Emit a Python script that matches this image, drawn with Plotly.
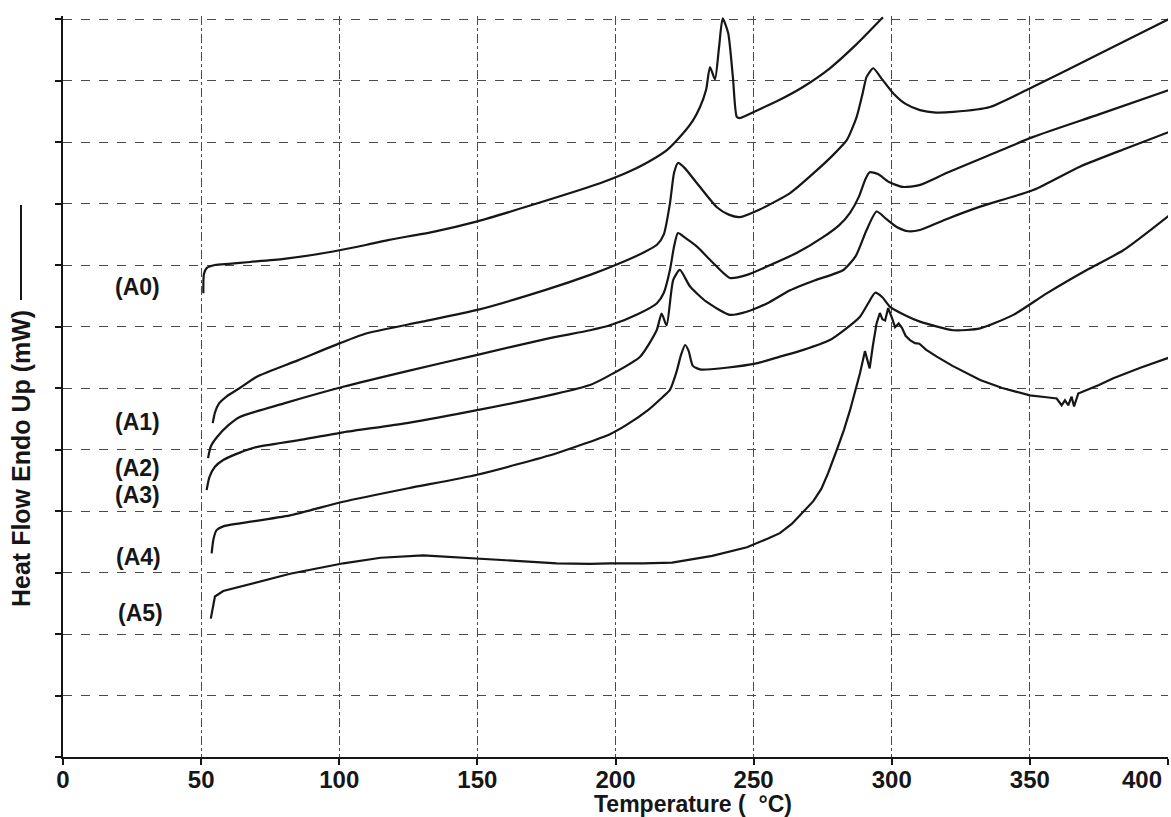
import plotly.graph_objects as go

# ---- data (Temperature in deg C, heat flow in grid units) ----
T_A0 = [50.8, 51.0, 52.0, 55, 60, 67.7, 80, 97.8, 110, 118, 134, 150, 170, 194.4, 205, 212,
        218.6, 224.4, 228, 230.6, 232.8, 234.2, 236.0, 237.5, 238.8, 240.8, 242.5, 243.9, 245.0,
        252, 260, 268, 277.6, 287, 296.8]
Y_A0 = [7.54, 7.85, 7.95, 8.0, 8.02, 8.05, 8.1, 8.22, 8.33, 8.41, 8.54, 8.71, 8.98, 9.33, 9.52, 9.68,
        9.87, 10.14, 10.35, 10.57, 10.85, 11.22, 11.02, 11.55, 12.01, 11.77, 11.05, 10.41, 10.39,
        10.53, 10.7, 10.9, 11.2, 11.58, 12.03]

T_A1 = [54.2, 55.0, 56.5, 59.4, 64, 70, 85, 100.3, 110, 130, 150, 175, 190.8, 200, 210, 215, 217.5,
        219.7, 221.2, 222.6, 225, 229.5, 236.7, 241, 245, 252, 263.2, 271.6, 279, 283.7, 287.3, 289.5,
        290.9, 293.3, 296, 300.6, 305, 310.2, 316, 322.3, 335.6, 351.2, 375.4, 400.7]
Y_A1 = [5.43, 5.6, 5.75, 5.87, 6.0, 6.18, 6.45, 6.73, 6.89, 7.08, 7.27, 7.6, 7.84, 8.0, 8.2, 8.33, 8.5,
        9.0, 9.5, 9.66, 9.58, 9.33, 8.94, 8.82, 8.78, 8.9, 9.17, 9.49, 9.8, 10.03, 10.41, 10.8,
        11.06, 11.2, 11.05, 10.79, 10.62, 10.52, 10.48, 10.49, 10.57, 10.9, 11.44, 12.01]

T_A2 = [52.5, 53.5, 55.7, 60, 64, 80, 101.4, 125, 150, 175, 190.8, 198, 208, 215, 217.5, 219.7, 221.2,
        222.6, 225, 229.5, 235, 241.4, 247.6, 255, 265.7, 275, 281, 284.9, 288, 290.5, 292, 295, 299,
        304, 310, 320, 335, 351, 375, 400.7]
Y_A2 = [4.86, 5.05, 5.2, 5.4, 5.53, 5.75, 6.02, 6.28, 6.54, 6.8, 6.94, 7.02, 7.2, 7.38, 7.55, 7.92, 8.3,
        8.52, 8.45, 8.3, 8.05, 7.79, 7.84, 7.98, 8.2, 8.45, 8.65, 8.85, 9.1, 9.4, 9.51, 9.48, 9.35,
        9.27, 9.3, 9.5, 9.78, 10.08, 10.45, 10.85]

T_A3 = [52.0, 53, 55, 58, 64, 70, 85, 101.4, 124.5, 149.9, 178.7, 190.8, 198, 208.9, 214.9, 216.7,
        218.5, 220.9, 223.3, 227, 233, 241.4, 247.5, 255, 263.2, 272, 282.5, 287, 290.9, 294.5, 298,
        301.8, 306, 310.2, 320, 332, 351.2, 368.1, 385, 400.7]
Y_A3 = [4.34, 4.55, 4.72, 4.83, 4.95, 5.04, 5.15, 5.28, 5.43, 5.64, 5.91, 6.05, 6.21, 6.51, 6.94, 7.21,
        7.02, 7.76, 7.92, 7.65, 7.4, 7.19, 7.24, 7.38, 7.59, 7.75, 7.92, 8.15, 8.57, 8.87, 8.75,
        8.62, 8.55, 8.57, 8.75, 8.95, 9.22, 9.6, 9.9, 10.17]

T_A4 = [53.8, 54.5, 55.6, 58, 64, 82.2, 101.4, 125, 149.9, 178.7, 198, 204, 212, 217, 219.7, 222,
        223.8, 225.2, 226.5, 228, 231, 240, 251, 259.5, 268, 277.6, 283, 288.5, 291.5, 294, 296.5,
        299.4, 305, 310.2, 322.3, 332, 344, 356.1, 370.6, 383.8, 400.5]
Y_A4 = [3.31, 3.55, 3.69, 3.75, 3.8, 3.93, 4.15, 4.37, 4.59, 4.94, 5.25, 5.4, 5.65, 5.85, 5.97, 6.25,
        6.55, 6.7, 6.6, 6.36, 6.3, 6.33, 6.4, 6.51, 6.62, 6.78, 6.95, 7.16, 7.38, 7.55, 7.48,
        7.32, 7.18, 7.08, 6.94, 6.97, 7.19, 7.54, 7.92, 8.24, 8.81]

T_A5 = [53.5, 54.2, 55, 58, 64, 82.2, 101.5, 115, 130.4, 149.8, 165, 178.7, 190.8, 198, 210, 220.5,
        235, 247.6, 255, 259.5, 263.8, 268, 271.6, 274.5, 277, 280, 282.7, 284.9, 286.8, 288.5,
        290.3, 291.2, 292, 293.2, 294.5, 295.7, 296.6, 297.6, 298.7, 300, 301.2, 302.5, 303.7, 305,
        306.6, 308.4, 310, 312.5, 316.3, 322, 332, 340, 350, 356, 359.7, 361.5, 362.7, 363.9, 365.1,
        366.0, 367.5, 375, 380.2, 390, 400.7]
Y_A5 = [2.25, 2.45, 2.61, 2.7, 2.77, 2.98, 3.15, 3.24, 3.28, 3.23, 3.18, 3.15, 3.14, 3.15, 3.15, 3.16,
        3.27, 3.41, 3.55, 3.64, 3.79, 3.98, 4.16, 4.36, 4.62, 4.98, 5.32, 5.64, 5.95, 6.24,
        6.6, 6.45, 6.32, 6.7, 7.05, 7.22, 7.12, 7.1, 7.3, 7.15, 6.99, 7.05, 6.98, 6.85,
        6.78, 6.73, 6.72, 6.62, 6.51, 6.36, 6.13, 6.0, 5.88, 5.85, 5.83, 5.72, 5.8, 5.72, 5.86,
        5.7, 5.91, 6.05, 6.16, 6.33, 6.5]

curve_names = ["(A0)", "(A1)", "(A2)", "(A3)", "(A4)", "(A5)"]
label_T = [26.8, 26.8, 26.8, 26.8, 27.5, 28.0]
label_Y = [7.64, 5.45, 4.70, 4.26, 3.25, 2.34]

x_ticks = [0, 50, 100, 150, 200, 250, 300, 350, 400]
x_ticktext = ["0", "50", "100", "150", "200", "250", "300", "350", "400"]
y_grid = list(range(0, 13))

FONT = "Liberation Sans, Arial, Helvetica, sans-serif"
INK = "#161616"
GRID = "#4a4a4a"

series = [(T_A0, Y_A0), (T_A1, Y_A1), (T_A2, Y_A2), (T_A3, Y_A3), (T_A4, Y_A4), (T_A5, Y_A5)]

fig = go.Figure()
for i, (tx, yy) in enumerate(series):
    shape = "linear" if i == 5 else "spline"
    fig.add_trace(go.Scatter(
        x=tx, y=yy, mode="lines", name=curve_names[i],
        line=dict(color=INK, width=2.2, shape=shape, smoothing=0.6),
        showlegend=False, hoverinfo="skip"))


def b(s):
    return "<b>" + s + "</b>"


annotations = []
for name, lx, ly in zip(curve_names, label_T, label_Y):
    annotations.append(dict(x=lx, y=ly, xref="x", yref="y", text=b(name), showarrow=False,
                            font=dict(family=FONT, size=23, color=INK),
                            xanchor="center", yanchor="middle"))

# last tick label pushed inside the page as in the scan
annotations.append(dict(x=x_ticks[-1], y=-(779 - 757) / 741, xref="x", yref="paper",
                        text=b(x_ticktext[-1]), showarrow=False, xanchor="right", yanchor="middle",
                        xshift=-4, font=dict(family=FONT, size=24, color=INK)))

annotations.append(dict(x=228, y=-(804 - 757) / 741, xref="x", yref="paper",
                        text=b("Temperature (  \u00b0C)"), showarrow=False,
                        xanchor="center", yanchor="middle",
                        font=dict(family=FONT, size=23, color=INK)))

annotations.append(dict(x=(21 - 63) / 1105, y=(757 - 459) / 741, xref="paper", yref="paper",
                        text=b("Heat Flow Endo Up (mW)"), textangle=-90, showarrow=False,
                        xanchor="center", yanchor="middle",
                        font=dict(family=FONT, size=25, color=INK)))

shapes = [dict(type="line", xref="paper", yref="paper",
               x0=(21 - 63) / 1105, x1=(21 - 63) / 1105,
               y0=(757 - 300) / 741, y1=(757 - 205) / 741,
               line=dict(color=INK, width=2))]

fig.update_layout(
    width=1171, height=817,
    margin=dict(l=63, r=3, t=16, b=60),
    paper_bgcolor="white", plot_bgcolor="white",
    annotations=annotations, shapes=shapes,
    xaxis=dict(range=[0, 400], tickmode="array", tickvals=x_ticks,
               ticktext=[b(t) for t in x_ticktext[:-1]] + [""],
               showgrid=True, gridcolor=GRID, gridwidth=1, griddash="dashdot",
               showline=True, linecolor=INK, linewidth=2, zeroline=False,
               ticks="outside", ticklen=6, tickwidth=1.5, tickcolor=INK,
               ticklabelstandoff=-6,
               tickfont=dict(family=FONT, size=24, color=INK), automargin=False),
    yaxis=dict(range=[0, 12.05], tickmode="array", tickvals=y_grid, showticklabels=False,
               showgrid=True, gridcolor=GRID, gridwidth=1, griddash="dash",
               showline=True, linecolor=INK, linewidth=2, zeroline=False,
               ticks="outside", ticklen=6, tickwidth=1.5, tickcolor=INK, automargin=False),
)

fig.write_html("out.html")
